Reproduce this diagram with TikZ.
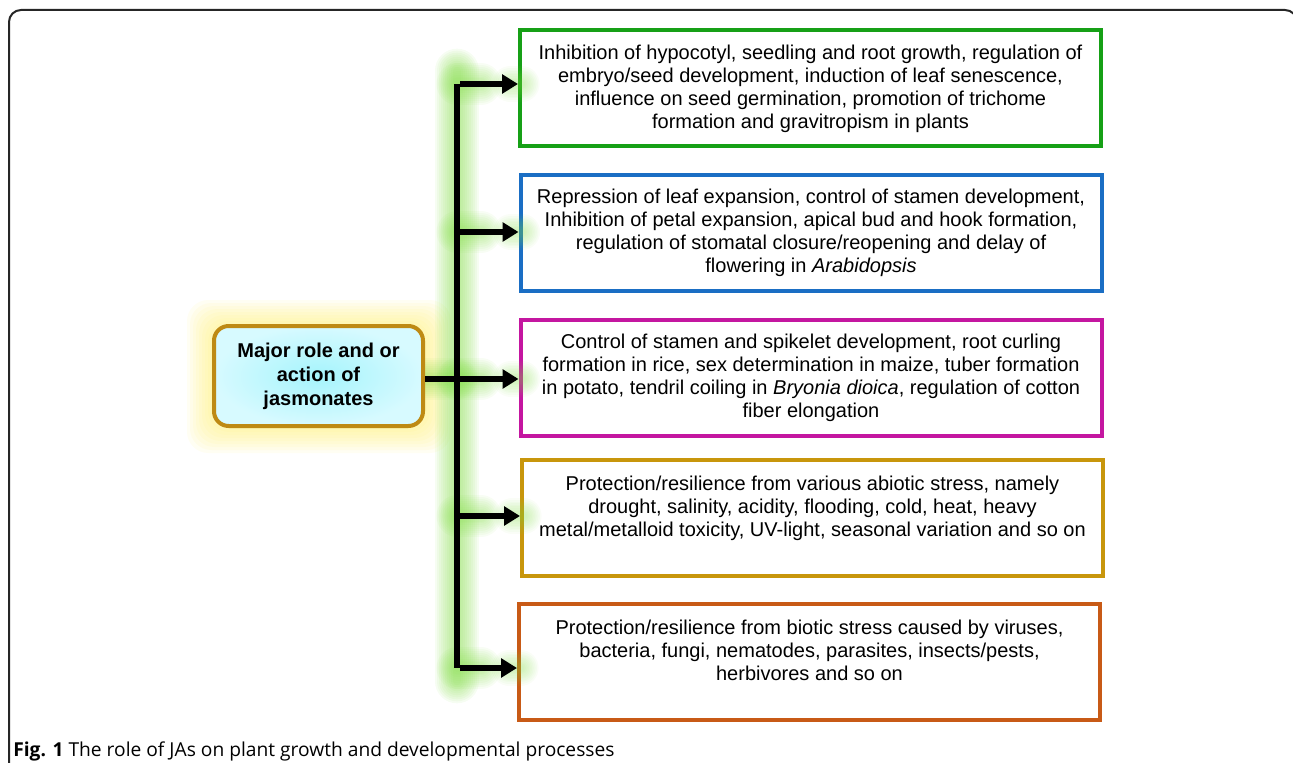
\documentclass[tikz,border=0pt]{standalone}
\usepackage{fontspec}
\setmainfont{Liberation Sans}
\newfontfamily\capfont{Open Sans}
\usetikzlibrary{arrows.meta}
\definecolor{cgreen}{RGB}{22,160,22}
\definecolor{cblue}{RGB}{26,110,196}
\definecolor{cmag}{RGB}{196,22,160}
\definecolor{cgold}{RGB}{200,150,12}
\definecolor{corange}{RGB}{200,90,22}
\definecolor{cborder}{RGB}{190,138,20}
\definecolor{cyanin}{RGB}{165,244,252}
\definecolor{cyanout}{RGB}{215,250,255}
\definecolor{glowg}{RGB}{130,220,70}
\definecolor{glowy}{RGB}{255,238,100}
\tikzset{
  infobox/.style={draw, line width=3pt, minimum width=435.75pt, minimum height=87pt,
    inner sep=0pt, align=center, font=\fontsize{15pt}{17.3pt}\selectfont},
  centerbox/.style={draw=cborder, line width=3pt, rounded corners=11pt,
    minimum width=156.75pt, minimum height=75pt, inner sep=0pt, align=center,
    shade, inner color=cyanin, outer color=cyanout,
    font=\fontsize{15pt}{18pt}\selectfont\bfseries},
  spine/.style={line width=4.5pt},
  arr/.style={line width=4.5pt, -{Triangle[length=12pt,width=14pt]}},
  glowline/.style={draw=glowg, line cap=round},
  frame/.style={line width=1.5pt, rounded corners=9pt, draw=black!85}
}
\begin{document}
\begin{tikzpicture}[x=0.75pt,y=-0.75pt]
\useasboundingbox (0,0) rectangle (1293,763);
% outer frame
\draw[frame] (9,780) -- (9,10) -- (1297,10) -- (1297,780);
% coordinates on the spine
\coordinate (a1) at (457,84);
\coordinate (a2) at (457,232);
\coordinate (a3) at (457,379);
\coordinate (a4) at (457,516);
\coordinate (a5) at (457,668);
% boxes
\node[infobox, draw=cgreen] (b1) at (810.5,88.5) {Inhibition of hypocotyl, seedling and root growth, regulation of\\embryo/seed development, induction of leaf senescence,\\influence on seed germination, promotion of trichome\\formation and gravitropism in plants};
\node[infobox, draw=cblue] (b2) at (811,233) {Repression of leaf expansion, control of stamen development,\\Inhibition of petal expansion, apical bud and hook formation,\\regulation of stomatal closure/reopening and delay of\\flowering in \textit{Arabidopsis}};
\node[infobox, draw=cmag] (b3) at (811,378) {Control of stamen and spikelet development, root curling\\formation in rice, sex determination in maize, tuber formation\\in potato, tendril coiling in \textit{Bryonia dioica}, regulation of cotton\\fiber elongation};
\node[infobox, draw=cgold] (b4) at (812.5,518) {Protection/resilience from various abiotic stress, namely\\drought, salinity, acidity, flooding, cold, heat, heavy\\metal/metalloid toxicity, UV-light, seasonal variation and so on\\\mbox{}};
\node[infobox, draw=corange] (b5) at (809.5,662) {Protection/resilience from biotic stress caused by viruses,\\bacteria, fungi, nematodes, parasites, insects/pests,\\herbivores and so on\\\mbox{}};
% glow of the central node
\foreach \e in {26,23,...,2}{
  \fill[glowy, opacity=0.08, rounded corners=16pt] (213-\e,326-\e) rectangle (425+\e,427+\e);
}
% green glow around spine and arrows
\foreach \w in {44,40,...,8}{
  \draw[glowline, opacity=0.07, line width=\w*0.75pt] ([yshift=10pt]a1) -- ([yshift=-10pt]a5);
  \foreach \i in {1,...,5}{
    \draw[glowline, opacity=0.06, line width=\w*0.7pt] (a\i) -- ++(24,0);
    \draw[glowline, opacity=0.045, line width=\w*0.6pt] ([xshift=-6pt]a\i -| b\i.west) -- ++(12,0);
  }
  \draw[glowline, opacity=0.06, line width=\w*0.7pt] (a3) -- ++(-30,0);
}
% central node
\node[centerbox] (c) at (318.5,376) {Major role and or\\action of\\jasmonates};
% connectors
\draw[spine] (a1) -- (a5);
\draw[spine] (c.east |- a3) -- (a3);
\foreach \i in {1,...,5}{
  \draw[arr] ([xshift=2.25pt]a\i) -- (a\i -| b\i.west);
}
% caption
\node[anchor=base west, inner sep=0pt, font=\capfont\fontsize{14.4pt}{17pt}\selectfont] (cap) at (13,756) {\textbf{Fig. 1} The role of JAs on plant growth and developmental processes};
\end{tikzpicture}
\end{document}
